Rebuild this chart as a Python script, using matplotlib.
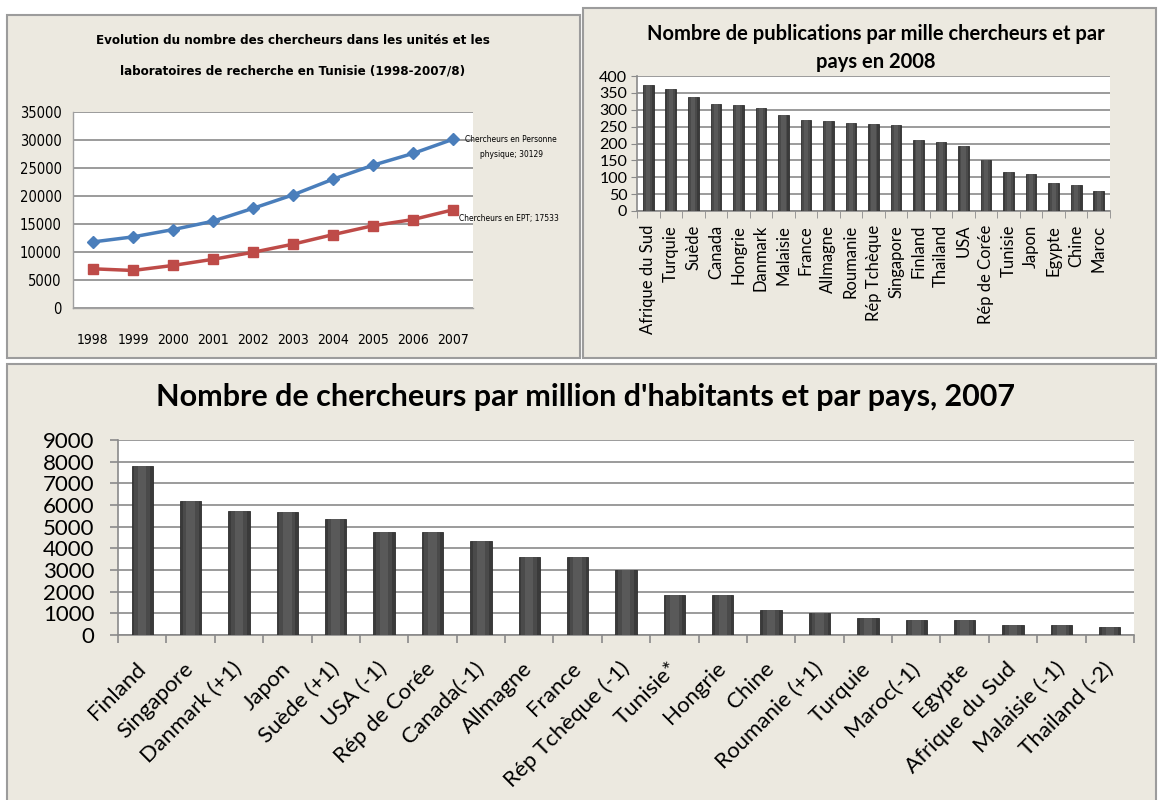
import numpy as np
import matplotlib
matplotlib.use("Agg")
import matplotlib.pyplot as plt
from matplotlib import font_manager as fm
from matplotlib.patches import Rectangle

W, H = 1158, 800

# --- panel 1 : chercheurs en Tunisie ---------------------------------
years = ["1998", "1999", "2000", "2001", "2002", "2003", "2004", "2005", "2006", "2007"]
pers_physique = [11800, 12700, 14000, 15500, 17800, 20200, 23000, 25500, 27600, 30129]
ept = [7000, 6700, 7600, 8700, 9950, 11400, 13100, 14700, 15800, 17533]

# --- panel 2 : publications par mille chercheurs, 2008 ------------------
pub_pays = ["Afrique du Sud", "Turquie", "Suède", "Canada", "Hongrie", "Danmark",
            "Malaisie", "France", "Allmagne", "Roumanie", "Rép Tchèque", "Singapore",
            "Finland", "Thailand", "USA", "Rép de Corée", "Tunisie", "Japon",
            "Egypte", "Chine", "Maroc"]
pub_vals = [373, 362, 338, 317, 314, 305, 285, 270, 267, 262, 258, 255,
            211, 205, 194, 151, 116, 111, 82, 78, 60]

# --- panel 3 : chercheurs par million d'habitants, 2007 -----------------
ch_pays = ["Finland", "Singapore", "Danmark (+1)", "Japon", "Suède (+1)", "USA (-1)",
           "Rép de Corée", "Canada(-1)", "Allmagne", "France", "Rép Tchèque (-1)",
           "Tunisie*", "Hongrie", "Chine", "Roumanie (+1)", "Turquie", "Maroc(-1)",
           "Egypte", "Afrique du Sud", "Malaisie (-1)", "Thailand (-2)"]
ch_vals = [7800, 6200, 5740, 5690, 5370, 4770, 4770, 4350, 3600, 3600, 3020,
           1860, 1860, 1170, 1030, 800, 710, 710, 480, 480, 385]

BG = "#ECE9E0"
EDGE = "#9C9C9C"
GRID = "#8A8A8A"
SANS = ["Lato", "DejaVu Sans"]

# narrow font for the first panel: DejaVu Sans Condensed if it is there
has_cond = any(f.name == "DejaVu Sans" and f.stretch != "normal"
               for f in fm.fontManager.ttflist)
if has_cond:
    NARROW = dict(family="DejaVu Sans", stretch="condensed")
else:
    NARROW = dict(family="Liberation Sans")


def box(l, t, r, b):
    return [l / W, 1 - b / H, (r - l) / W, (b - t) / H]


def panel(fig, l, t, r, b):
    fig.add_artist(Rectangle((l / W, 1 - b / H), (r - l) / W, (b - t) / H,
                             transform=fig.transFigure, facecolor=BG,
                             edgecolor=EDGE, lw=1.5, zorder=0))


def shaded_bars(ax, x, vals, width):
    ax.bar(x, vals, width=width, color="#3a3a3a", edgecolor="#2e2e2e", lw=0.6, zorder=3)
    ax.bar(x, vals, width=width * 0.75, color="#4a4a4a", lw=0, zorder=3)
    ax.bar(x, vals, width=width * 0.4, color="#595959", lw=0, zorder=3)


def style_axes(ax):
    ax.set_facecolor("white")
    for s in ["top", "right"]:
        ax.spines[s].set_visible(False)
    for s in ["left", "bottom"]:
        ax.spines[s].set_color(GRID)
        ax.spines[s].set_linewidth(1.2)
    ax.yaxis.grid(True, color=GRID, lw=1.2, zorder=1)
    ax.set_axisbelow(True)


fig = plt.figure(figsize=(W / 100, H / 100), dpi=100)
fig.patch.set_facecolor("white")

# ---------------------------------------------------------------------
panel(fig, 7, 15, 580, 358)
ax1 = fig.add_axes(box(73, 112, 473, 308))
ax1.set_facecolor("white")
for s in ["top", "right"]:
    ax1.spines[s].set_visible(False)
for s in ["left", "bottom"]:
    ax1.spines[s].set_color("#A0A0A0")
    ax1.spines[s].set_linewidth(1.0)
ax1.yaxis.grid(True, color=GRID, lw=1.2)
ax1.set_axisbelow(True)
x1 = np.arange(len(years))
ax1.plot(x1, pers_physique, color="#4A7EBB", lw=2.5, marker="D", ms=6, zorder=3)
ax1.plot(x1, ept, color="#BE4B48", lw=2.5, marker="s", ms=7, zorder=3)
ax1.set_xlim(-0.5, len(years) - 0.5)
ax1.set_ylim(0, 35000)
ax1.set_yticks(np.arange(0, 35001, 5000))
ax1.set_xticks(x1)
ax1.set_xticklabels(years)
ax1.tick_params(axis="x", length=0, labelsize=10, pad=18)
ax1.tick_params(axis="y", length=0, labelsize=10.5, pad=8)
for lab in ax1.get_xticklabels() + ax1.get_yticklabels():
    lab.set(**NARROW)
ax1.annotate("Chercheurs en Personne\nphysique; 30129", xy=(x1[-1], pers_physique[-1]),
             xytext=(58, -8), textcoords="offset pixels", ha="center", va="center",
             fontsize=6, linespacing=1.8, annotation_clip=False, **NARROW)
ax1.annotate("Chercheurs en EPT; 17533", xy=(x1[-1], ept[-1]),
             xytext=(56, -9), textcoords="offset pixels", ha="center", va="center",
             fontsize=6, annotation_clip=False, **NARROW)
fig.text(293 / W, 1 - 41 / H, "Evolution du nombre des chercheurs dans les unités et les",
         ha="center", va="center", fontsize=9.5, fontweight="bold", **NARROW)
fig.text(293 / W, 1 - 71 / H, "laboratoires de recherche en Tunisie (1998-2007/8)",
         ha="center", va="center", fontsize=9.5, fontweight="bold", **NARROW)

# ---------------------------------------------------------------------
panel(fig, 583, 8, 1156, 358)
ax2 = fig.add_axes(box(637, 76, 1110, 211))
style_axes(ax2)
x2 = np.arange(len(pub_pays))
shaded_bars(ax2, x2, pub_vals, 0.47)
ax2.set_xlim(-0.5, len(pub_pays) - 0.5)
ax2.set_ylim(0, 400)
ax2.set_yticks(np.arange(0, 401, 50))
ax2.set_xticks(x2)
ax2.set_xticklabels(pub_pays, rotation=90, family=SANS)
ax2.set_xticks(np.arange(-0.5, len(pub_pays), 1), minor=True)
ax2.tick_params(axis="x", which="major", length=0, labelsize=12, pad=10)
ax2.tick_params(axis="x", which="minor", length=5, color=GRID)
ax2.tick_params(axis="y", length=4, color=GRID, labelsize=11.5, pad=3)
for lab in ax2.get_yticklabels():
    lab.set_family(SANS)
fig.text(876 / W, 1 - 34 / H, "Nombre de publications par mille chercheurs et par",
         ha="center", va="center", fontsize=14.5, fontweight="bold", family=SANS)
fig.text(876 / W, 1 - 62 / H, "pays en 2008",
         ha="center", va="center", fontsize=14.5, fontweight="bold", family=SANS)

# ---------------------------------------------------------------------
panel(fig, 7, 364, 1156, 815)
ax3 = fig.add_axes(box(118, 440, 1134, 635))
style_axes(ax3)
x3 = np.arange(len(ch_pays))
shaded_bars(ax3, x3, ch_vals, 0.44)
ax3.set_xlim(-0.5, len(ch_pays) - 0.5)
ax3.set_ylim(0, 9000)
ax3.set_yticks(np.arange(0, 9001, 1000))
ax3.set_xticks(x3)
ax3.set_xticklabels(ch_pays, rotation=45, ha="right", va="center",
                    rotation_mode="anchor", family=SANS)
ax3.set_xticks(np.arange(-0.5, len(ch_pays), 1), minor=True)
ax3.tick_params(axis="x", which="major", length=0, labelsize=16, pad=22)
ax3.tick_params(axis="x", which="minor", length=6, color=GRID, width=1.2)
ax3.tick_params(axis="y", length=6, color=GRID, width=1.2, labelsize=16, pad=11)
for lab in ax3.get_yticklabels():
    lab.set_family(SANS)
fig.text(585 / W, 1 - 397 / H,
         "Nombre de chercheurs par million d'habitants et par pays, 2007",
         ha="center", va="center", fontsize=22, fontweight="bold", family=SANS)

fig.savefig("out.png", dpi=100)
